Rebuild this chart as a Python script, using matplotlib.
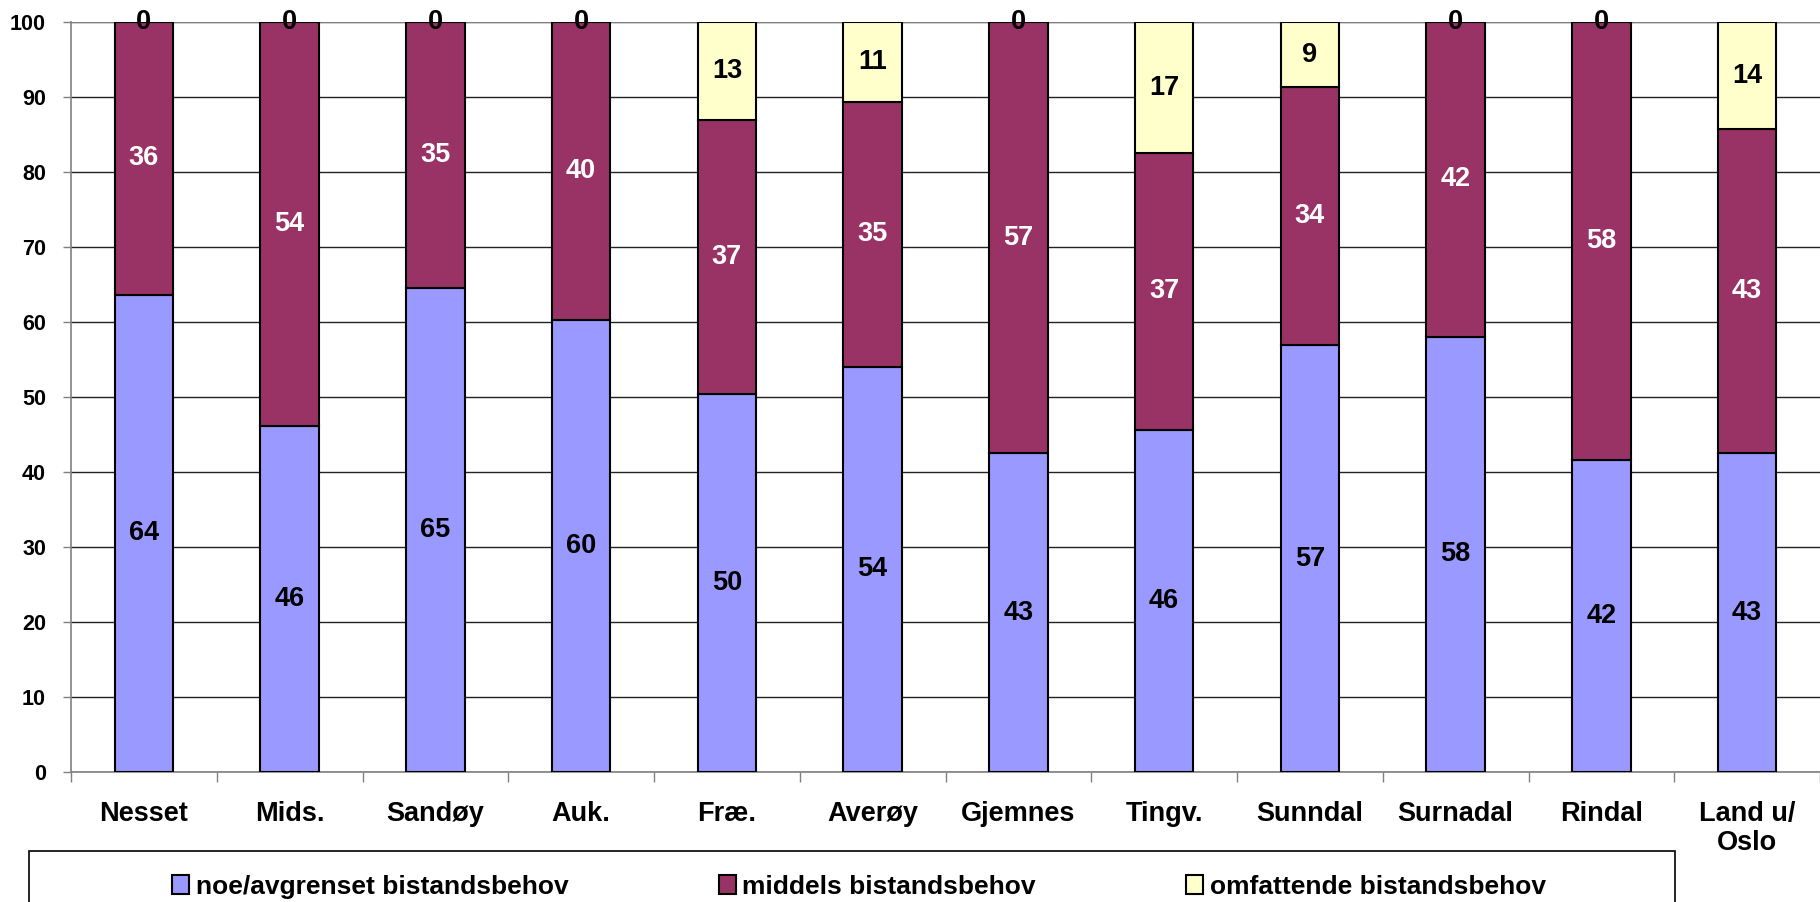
import numpy as np
import matplotlib
matplotlib.use('Agg')
import matplotlib.pyplot as plt
import matplotlib.patches as mpatches

plt.rcParams['font.family'] = ['Liberation Sans', 'DejaVu Sans']
plt.rcParams['font.weight'] = 'bold'

# ── data (andel i prosent)
categories = ['Nesset', 'Mids.', 'Sandøy', 'Auk.', 'Fræ.', 'Averøy', 'Gjemnes',
              'Tingv.', 'Sunndal', 'Surnadal', 'Rindal', 'Land u/\nOslo']
noe = [63.7, 46.2, 64.6, 60.3, 50.4, 54.1, 42.6, 45.7, 57.0, 58.1, 41.6, 42.6]
middels = [36.3, 53.8, 35.4, 39.7, 36.6, 35.3, 57.4, 36.9, 34.4, 41.9, 58.4, 43.2]
omfattende = [0.0, 0.0, 0.0, 0.0, 13.0, 10.6, 0.0, 17.4, 8.6, 0.0, 0.0, 14.2]
series_names = ['noe/avgrenset bistandsbehov', 'middels bistandsbehov',
                'omfattende bistandsbehov']
colors = ['#9999FF', '#993366', '#FFFFCC']
label_colors = ['black', 'white', 'black']
yticks = list(range(0, 101, 10))

W, H = 1820, 902
fig = plt.figure(figsize=(W / 100, H / 100), dpi=100)
ax = fig.add_axes([71 / W, (H - 772.3) / H, (W - 71) / W, 750 / H])

x = np.arange(len(categories))
bottom = np.zeros(len(categories))
for vals, name, col, lc in zip([noe, middels, omfattende], series_names, colors, label_colors):
    vals = np.array(vals)
    ax.bar(x, vals, width=0.4, bottom=bottom, color=col, edgecolor='black',
           linewidth=1.5, label=name, zorder=3)
    for xi, b, v in zip(x, bottom, vals):
        ax.text(xi, b + v / 2, f'{v:.0f}', ha='center', va='center',
                fontsize=19.5, fontweight='bold', color=lc, zorder=5)
    bottom = bottom + vals

ax.set_xlim(-0.5, -0.5 + (W - 71) / 146.6)
ax.set_ylim(0, 100)

# y-akse
ax.set_yticks(yticks)
ax.set_yticklabels([str(t) for t in yticks], fontsize=15.5, fontweight='bold')
ax.tick_params(axis='y', length=6, width=1, color='#808080', pad=12)
ax.grid(axis='y', color='#222222', linewidth=1, zorder=0)
ax.set_axisbelow(True)

# x-akse: etiketter i midten, tickmerker mellom søylene
ax.set_xticks(x)
ax.set_xticklabels(categories, fontsize=19.5, fontweight='bold', va='top',
                   linespacing=1.15)
ax.tick_params(axis='x', which='major', length=0, pad=21)
ax.set_xticks(np.arange(-0.5, len(categories), 1), minor=True)
ax.tick_params(axis='x', which='minor', length=7.5, width=1, color='#808080')

for s in ['top', 'right']:
    ax.spines[s].set_visible(False)
for s in ['left', 'bottom']:
    ax.spines[s].set_color('#808080')
    ax.spines[s].set_linewidth(1.2)
ax.axhline(100, color='#808080', linewidth=1.5, zorder=1)

# legende med ramme (nederst, delvis utenfor bildet)
frame = mpatches.Rectangle((29 / W, -0.05), (1675 - 29) / W, 0.05 + 51 / H,
                           transform=fig.transFigure, facecolor='none',
                           edgecolor='black', linewidth=1.2, zorder=0.5)
fig.patches.append(frame)
leg = ax.legend(loc='center', bbox_to_anchor=(172 / W, 0.0, (1546 - 172) / W, 0.034),
                bbox_transform=fig.transFigure, mode='expand', ncol=3,
                frameon=False, fontsize=19, handlelength=0.65, handleheight=0.7,
                handletextpad=0.25, borderpad=0, borderaxespad=0)
for t in leg.get_texts():
    t.set_fontweight('bold')

fig.savefig('out.png', dpi=100, facecolor='white')
